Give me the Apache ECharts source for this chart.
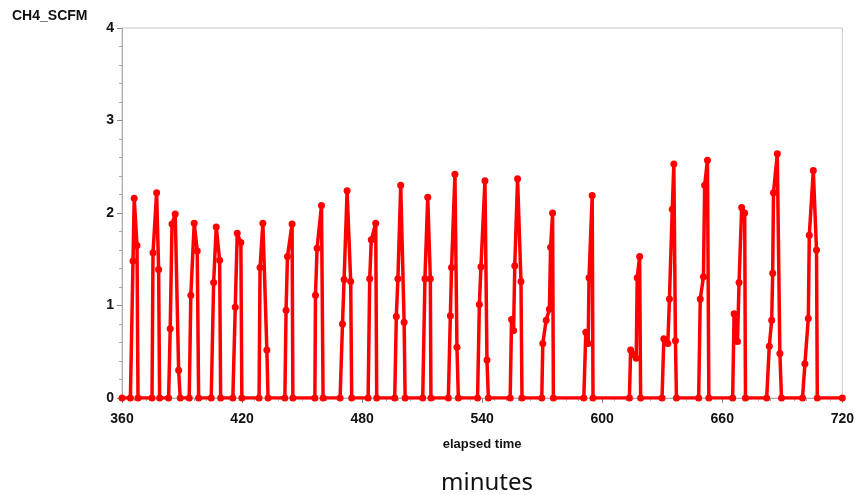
<!DOCTYPE html>
<html>
<head>
<meta charset="utf-8">
<script src="https://cdn.jsdelivr.net/npm/echarts@6/dist/echarts.min.js"></script>
<style>
  html, body { margin: 0; padding: 0; background: #fff; }
  #chart { width: 857px; height: 495px; }
</style>
</head>
<body>
<div id="chart"></div>
<script>
// elapsed time (minutes) and CH4 flow (SCFM), one line per pulse
var elapsed = [
  360,
  364.2, 365.5, 366.1, 367.5, 368.0,
  375.0, 375.5, 377.3, 378.3, 378.8,
  383.3, 384.1, 385.0, 386.6, 388.3, 389.1,
  393.6, 394.4, 396.1, 397.6, 398.3,
  404.6, 405.8, 407.1, 408.8, 409.3,
  415.4, 416.6, 417.6, 419.4, 419.9,
  428.5, 429.0, 430.4, 432.4, 433.0,
  441.4, 442.0, 442.7, 445.0, 445.4,
  456.4, 456.7, 457.5, 459.7, 460.5,
  469.0, 470.2, 471.0, 472.5, 474.3, 474.8,
  483.0, 483.8, 484.6, 486.8, 487.3,
  496.3, 497.1, 497.9, 499.3, 501.0, 501.5,
  510.3, 511.4, 512.8, 514.1, 514.4,
  523.1, 524.1, 524.7, 526.4, 527.4, 528.1,
  537.7, 538.6, 539.4, 541.4, 542.4, 543.1,
  554.0, 554.7, 555.7, 556.3, 557.7, 559.4, 559.9,
  569.8, 570.3, 572.0, 573.6, 574.2, 575.2, 575.6,
  590.8, 591.8, 593.0, 593.4, 595.0, 595.4,
  613.6, 614.2, 615.6, 617.0, 617.5, 618.7, 619.2,
  629.9, 630.8, 632.8, 633.6, 635.0, 635.8, 636.6, 637.1,
  648.2, 649.0, 650.6, 651.2, 652.6, 653.3,
  665.2, 665.9, 667.6, 668.4, 669.7, 671.2, 671.6,
  682.2, 683.5, 684.7, 685.2, 685.6, 687.5, 688.8, 689.6,
  700.1, 701.3, 703.0, 703.5, 705.5, 707.1, 707.5,
  720
];
var ch4 = [
  0,
  0, 1.48, 2.16, 1.65, 0,
  0, 1.57, 2.22, 1.39, 0,
  0, 0.75, 1.88, 1.99, 0.30, 0,
  0, 1.11, 1.89, 1.59, 0,
  0, 1.25, 1.85, 1.49, 0,
  0, 0.98, 1.78, 1.68, 0,
  0, 1.41, 1.89, 0.52, 0,
  0, 0.95, 1.53, 1.88, 0,
  0, 1.11, 1.62, 2.08, 0,
  0, 0.80, 1.28, 2.24, 1.26, 0,
  0, 1.29, 1.71, 1.89, 0,
  0, 0.88, 1.29, 2.30, 0.82, 0,
  0, 1.29, 2.17, 1.29, 0,
  0, 0.89, 1.41, 2.42, 0.55, 0,
  0, 1.01, 1.42, 2.35, 0.41, 0,
  0, 0.85, 0.73, 1.43, 2.37, 1.26, 0,
  0, 0.59, 0.84, 0.96, 1.63, 2.00, 0,
  0, 0.71, 0.59, 1.30, 2.19, 0,
  0, 0.52, 0.47, 0.43, 1.30, 1.53, 0,
  0, 0.64, 0.59, 1.07, 2.04, 2.53, 0.62, 0,
  0, 1.07, 1.31, 2.30, 2.57, 0,
  0, 0.91, 0.61, 1.25, 2.06, 2.00, 0,
  0, 0.56, 0.84, 1.35, 2.22, 2.64, 0.48, 0,
  0, 0.37, 0.86, 1.76, 2.46, 1.60, 0,
  0
];

var chart = echarts.init(document.getElementById('chart'));
var labelFont = { fontFamily: 'Liberation Sans', fontWeight: 'bold', fontSize: 14, color: '#111' };

var option = {
  animation: false,
  backgroundColor: '#fff',
  title: [
    { text: 'CH4_SCFM', left: 7, top: 4, textStyle: { fontFamily: 'Liberation Sans', fontWeight: 'bold', fontSize: 14, color: '#111' } },
    { text: 'minutes', left: 436, top: 466, textStyle: { fontFamily: 'Noto Sans', fontWeight: 'normal', fontSize: 24, color: '#111' } }
  ],
  grid: { left: 122, right: 14, top: 28, bottom: 97, show: true, borderColor: '#c8c8c8', borderWidth: 1 },
  xAxis: {
    type: 'value', min: 360, max: 720, interval: 60,
    offset: 4,
    name: 'elapsed time', nameLocation: 'middle', nameGap: 36,
    nameTextStyle: { fontFamily: 'Liberation Sans', fontWeight: 'bold', fontSize: 13, color: '#111' },
    axisLine: { lineStyle: { color: '#aaa' } },
    axisTick: { length: 5, lineStyle: { color: '#888' } },
    minorTick: { show: true, splitNumber: 10, length: 3, lineStyle: { color: '#aaa' } },
    axisLabel: Object.assign({ margin: 10 }, labelFont),
    splitLine: { show: false }
  },
  yAxis: {
    type: 'value', min: 0, max: 4, interval: 1,
    axisLine: { show: true, lineStyle: { color: '#aaa' } },
    axisTick: { show: true, length: 5, lineStyle: { color: '#888' } },
    minorTick: { show: true, splitNumber: 5, length: 3, lineStyle: { color: '#aaa' } },
    axisLabel: Object.assign({ margin: 8 }, labelFont),
    splitLine: { show: false }
  },
  series: [{
    name: 'CH4_SCFM',
    type: 'line',
    data: elapsed.map(function (t, i) { return [t, ch4[i]]; }),
    symbol: 'circle',
    symbolSize: 7,
    showAllSymbol: true,
    itemStyle: { color: '#ff0000' },
    lineStyle: { color: '#ff0000', width: 3.5 }
  }]
};
chart.setOption(option);
</script>
</body>
</html>
